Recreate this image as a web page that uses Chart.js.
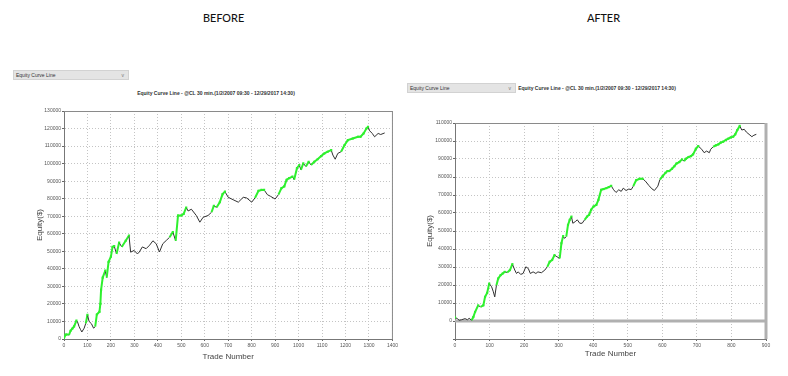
<!DOCTYPE html>
<html>
<head>
<meta charset="utf-8">
<script src="https://cdn.jsdelivr.net/npm/chart.js@4/dist/chart.umd.min.js"></script>
<style>
  body { margin: 0; background: #fff; width: 788px; height: 376px; position: relative; overflow: hidden; font-family: 'Liberation Sans', Arial, sans-serif; }
  .head { position: absolute; top: 10px; font-family: 'Carlito', 'Lato', 'Open Sans', sans-serif; font-size: 13px; color: #111; }
  .drop { position: absolute; height: 8px; background: #e4e4e4; border: 1px solid #d2d2d2; font-size: 5px; line-height: 8px; color: #333; padding-left: 2px; box-sizing: content-box; }
  .drop span { position: absolute; right: 4px; top: 0; color: #777; }
  .ttl { position: absolute; font-size: 5px; font-weight: bold; color: #333; white-space: nowrap; transform: translateX(-50%); }
  canvas { position: absolute; }
</style>
</head>
<body>
<div class="head" style="left:203px">BEFORE</div>
<div class="head" style="left:587px">AFTER</div>

<div class="drop" style="left:13px; top:70px; width:112px">Equity Curve Line<span>v</span></div>
<div class="drop" style="left:407px; top:83px; width:105px">Equity Curve Line<span>v</span></div>

<div class="ttl" style="left:216px; top:90px">Equity Curve Line - @CL 30 min.(1/2/2007 09:30 - 12/29/2017 14:30)</div>
<div class="ttl" style="left:597px; top:85px">Equity Curve Line - @CL 30 min.(1/2/2007 09:30 - 12/29/2017 14:30)</div>

<canvas id="before" width="400" height="265" style="left:0px; top:100px"></canvas>
<canvas id="after" width="398" height="255" style="left:390px; top:110px"></canvas>

<script>
// BEFORE curve
const beforeTrades = [0, 7, 14, 21, 28, 36, 43, 53, 57, 64, 70, 76, 86, 93, 100, 107, 117, 126, 133, 140,
  151, 155, 158, 165, 176, 182, 190, 200, 207, 214, 224, 235, 246, 263, 277, 284, 299, 313, 321, 334,
  350, 365, 379, 393, 407, 421, 436, 450, 464, 476, 486, 500, 510, 521, 529, 543, 564, 579, 593, 614,
  629, 639, 650, 664, 676, 686, 700, 721, 743, 764, 779, 800, 814, 829, 842, 853, 867, 881, 900, 914,
  927, 939, 949, 960, 974, 981, 993, 1003, 1010, 1020, 1031, 1043, 1053, 1067, 1081, 1096, 1110, 1124, 1139, 1146,
  1156, 1167, 1181, 1196, 1210, 1231, 1253, 1264, 1277, 1289, 1296, 1303, 1314, 1324, 1339, 1350, 1367]
const beforeEquity = [500, 2500, 2600, 2200, 4700, 6000, 7200, 10500, 10000, 7200, 5500, 4000, 6200, 9000, 13800, 10000, 8700, 6200, 7000, 14000,
  15500, 20000, 28000, 35000, 39000, 35000, 44000, 47000, 52500, 53000, 48500, 55000, 52500, 56000, 59000, 49500, 50500, 48500, 49600, 52500,
  51500, 53500, 56000, 54300, 49600, 54300, 56200, 58000, 61000, 56000, 70400, 70400, 71300, 75000, 73000, 74000, 70400, 66600, 69400, 70400,
  72300, 76000, 75000, 78000, 82600, 84000, 80800, 79400, 78000, 80800, 80400, 78000, 80400, 84500, 85000, 85000, 82300, 81300, 79800, 82300,
  86000, 87000, 90800, 91700, 92600, 90800, 97400, 99200, 96400, 100200, 98300, 101100, 99200, 101100, 102500, 104300, 105800, 106800, 107700, 104900,
  102500, 105800, 106800, 110600, 113400, 114300, 115300, 115300, 117200, 120000, 121000, 118700, 117200, 115300, 117200, 116600, 117500]

// AFTER curve
const afterTrades = [0, 7, 12, 19, 29, 36, 41, 48, 53, 58, 67, 74, 82, 87, 93, 99, 106, 111, 115, 120,
  125, 132, 138, 144, 151, 159, 166, 173, 178, 183, 190, 197, 205, 212, 218, 226, 234, 240, 250, 260,
  267, 274, 281, 288, 295, 303, 308, 313, 317, 322, 327, 332, 337, 341, 348, 354, 361, 368, 375, 382,
  388, 394, 401, 409, 415, 423, 430, 438, 445, 452, 459, 466, 474, 481, 487, 495, 503, 510, 516, 524,
  534, 543, 551, 561, 570, 577, 587, 593, 601, 609, 615, 620, 628, 635, 641, 649, 657, 663, 668, 676,
  683, 689, 697, 704, 709, 714, 721, 728, 736, 740, 747, 755, 762, 769, 776, 784, 791, 798, 805, 811,
  817, 824, 830, 837, 843, 851, 859, 865, 872]
const afterEquity = [2000, 1300, 400, 700, 1300, 700, 1500, 400, 2200, 5000, 8700, 7800, 8700, 13400, 15600, 20800, 19000, 16200, 13400, 19900,
  23600, 25500, 26400, 27300, 27000, 28300, 31600, 28300, 26400, 27300, 25900, 26400, 30100, 29200, 26400, 27300, 26400, 27300, 26800, 28300,
  30100, 32900, 33900, 36600, 35700, 34800, 43200, 47200, 45900, 46900, 53400, 56200, 58000, 54300, 55200, 56200, 54300, 54300, 56200, 58000,
  59000, 61800, 63600, 64500, 67300, 72900, 73300, 73800, 74400, 75100, 72900, 71400, 72900, 72000, 73800, 72500, 73300, 73000, 74900, 78200,
  79000, 79000, 77700, 75300, 73400, 72500, 74900, 78600, 80500, 82300, 83300, 83300, 84600, 86000, 87500, 88300, 89800, 88800, 90100, 91100,
  91600, 92600, 95700, 97200, 96300, 95400, 93500, 94400, 93500, 95400, 96800, 97600, 98100, 99100, 99600, 100600, 101300, 102000, 102400, 103700,
  106100, 108400, 106100, 106500, 105000, 103700, 102400, 103200, 103700]

const GREEN = '#2ef02e'
const LINE = '#303030'
const GRID = '#c4c4c4'
const TICK_FONT = { family: "'Liberation Sans', Arial, sans-serif", size: 5 }
const TITLE_FONT = { family: "'Liberation Sans', Arial, sans-serif", size: 8 }

// frame around the plot (top / right border) and the optional zero line
const framePlugin = {
    id: 'frame',
    beforeDatasetsDraw(chart, args, opts) {
        if (!opts.zeroLine) return
        const {ctx, chartArea: a} = chart
        const y0 = chart.scales.y.getPixelForValue(0)
        ctx.save()
        ctx.strokeStyle = '#b0b0b0'
        ctx.lineWidth = 3
        ctx.beginPath()
        ctx.moveTo(a.left, y0)
        ctx.lineTo(a.right, y0)
        ctx.stroke()
        ctx.restore()
    },
    afterDraw(chart, args, opts) {
        const {ctx, chartArea: a} = chart
        ctx.save()
        ctx.strokeStyle = '#8a8a8a'
        ctx.lineWidth = 1
        ctx.beginPath()
        ctx.moveTo(a.left, a.top + 0.5)
        ctx.lineTo(a.right, a.top + 0.5)
        ctx.stroke()
        ctx.strokeStyle = opts.rightColor || '#8a8a8a'
        ctx.lineWidth = opts.rightWidth || 1
        ctx.beginPath()
        ctx.moveTo(a.right, a.top)
        ctx.lineTo(a.right, a.bottom)
        ctx.stroke()
        ctx.restore()
    }
}

function makeChart(id, trades, equity, cfg) {
    // new equity highs are shown in green
    const isHigh = []
    let max = -Infinity
    equity.forEach((v, i) => { isHigh.push(v >= max); if (v > max) max = v })

    const points = trades.map((t, i) => ({x: t, y: equity[i]}))

    return new Chart(document.getElementById(id), {
        type: 'line',
        data: {
            datasets: [{
                data: points,
                borderColor: LINE,
                borderWidth: 1,
                tension: 0,
                pointStyle: 'rect',
                pointRadius: c => isHigh[c.dataIndex] ? 1.5 : 0,
                pointBackgroundColor: GREEN,
                pointBorderColor: GREEN,
                pointBorderWidth: 0,
                segment: {
                    borderColor: c => isHigh[c.p1DataIndex] ? GREEN : LINE,
                    borderWidth: c => isHigh[c.p1DataIndex] ? 2 : 1
                }
            }]
        },
        options: {
            responsive: false,
            animation: false,
            layout: { padding: cfg.padding },
            plugins: { legend: { display: false }, tooltip: { enabled: false }, frame: cfg.frame },
            scales: {
                x: {
                    type: 'linear',
                    min: 0, max: cfg.xMax,
                    afterFit: s => { s.height = 26 },
                    ticks: { stepSize: 100, font: TICK_FONT, color: '#555', padding: 2, maxRotation: 0,
                             callback: v => String(v) },
                    grid: { color: GRID, tickColor: '#666', tickLength: 2 },
                    border: { color: '#777', dash: [1, 2] },
                    title: { display: true, text: 'Trade Number', font: TITLE_FONT, color: '#444', padding: { top: 0, bottom: cfg.xTitlePad } }
                },
                y: {
                    min: cfg.yMin, max: cfg.yMax,
                    afterFit: s => { s.width = cfg.yWidth },
                    ticks: { stepSize: 10000, font: TICK_FONT, color: '#555', padding: 1,
                             callback: v => v < 0 ? '' : String(v) },
                    grid: { color: GRID, tickColor: '#666', tickLength: 2 },
                    border: { color: '#777', dash: [1, 2] },
                    title: { display: true, text: 'Equity($)', font: TITLE_FONT, color: '#444', padding: { top: cfg.yTitlePad, bottom: 0 } }
                }
            }
        },
        plugins: [framePlugin]
    })
}

makeChart('before', beforeTrades, beforeEquity, {
    padding: { top: 11, right: 7, left: 0, bottom: 0 },
    xMax: 1400, yMin: 0, yMax: 130000, yWidth: 64,
    xTitlePad: 3, yTitlePad: 35,
    frame: { zeroLine: false }
})

makeChart('after', afterTrades, afterEquity, {
    padding: { top: 13, right: 22, left: 0, bottom: 0 },
    xMax: 900, yMin: -10000, yMax: 110000, yWidth: 65,
    xTitlePad: 6, yTitlePad: 35,
    frame: { zeroLine: true, rightColor: '#b0b0b0', rightWidth: 3 }
})
</script>
</body>
</html>
